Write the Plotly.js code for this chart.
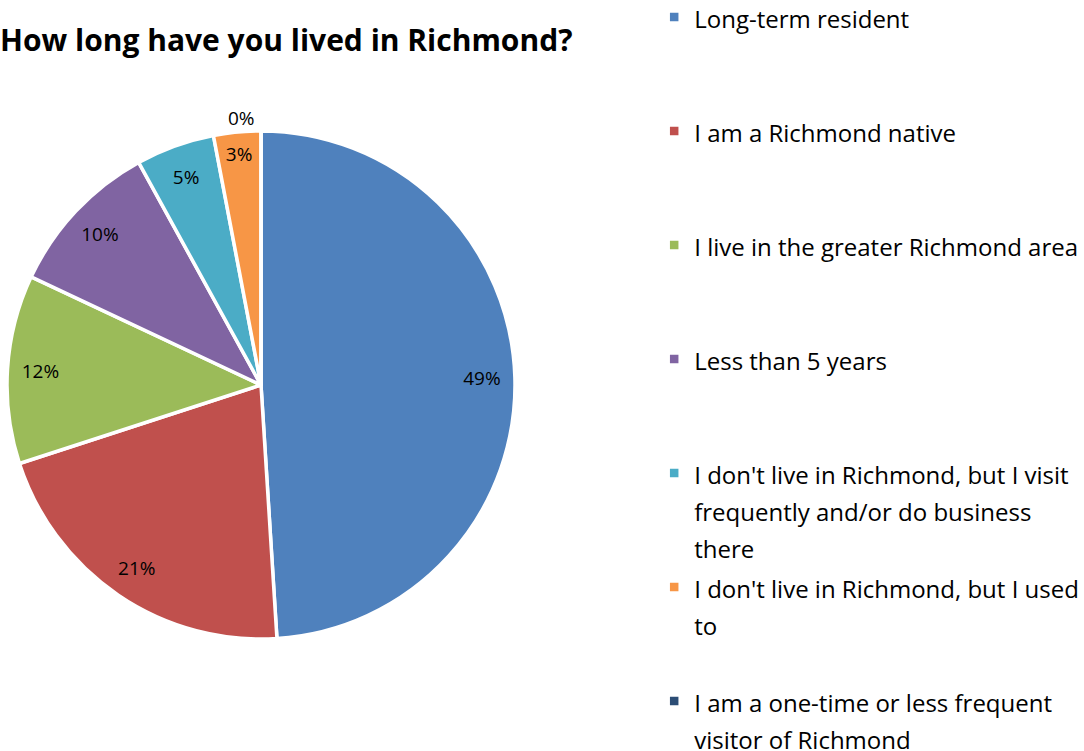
<!DOCTYPE html>
<html>
<head>
<meta charset="utf-8">
<script src="https://cdn.plot.ly/plotly-3.0.1.min.js"></script>
<style>html,body{margin:0;padding:0;background:#fff;}#chart{width:1084px;height:751px;}</style>
</head>
<body>
<div id="chart"></div>
<script>
const labels = [
  "Long-term resident",
  "I am a Richmond native",
  "I live in the greater Richmond area",
  "Less than 5 years",
  "I don't live in Richmond, but I visit<br>frequently and/or do business<br>there",
  "I don't live in Richmond, but I used<br>to",
  "I am a one-time or less frequent<br>visitor of Richmond"
];
const values = [49, 21, 12, 10, 5, 3, 0];
const colors = ["#4F81BD", "#C0504D", "#9BBB59", "#8064A2", "#4BACC6", "#F79646", "#2C4D75"];
const textPositions = ["inside", "inside", "inside", "inside", "inside", "inside", "outside"];
const titleText = "<b>How long have you lived in Richmond?</b>";

// each legend entry takes the same number of lines (slot height), glyphs drawn at TEXT_SIZE
const LINES = 3;
const TEXT_SIZE = 24;
const SLOT_LINE = 28.46; // legend font size used for line spacing
const legendLabels = labels.map((l, i) => {
  const parts = l.split("<br>");
  let s = parts.map(p => `<span style="font-size:${TEXT_SIZE}px">${p}</span>`).join("<br>");
  if (i < labels.length - 1) s += "<br> ".repeat(Math.max(0, LINES - parts.length));
  return s;
});

const W = 1084, H = 751;
const cx = 261, cy = 385, R = 254;
const domain = {
  x: [(cx - R) / W, (cx + R) / W],
  y: [(H - cy - R) / H, (H - cy + R) / H]
};

const FONT = "'Open Sans', sans-serif";

const mainPie = {
  type: "pie",
  labels: legendLabels,
  values: values,
  sort: false,
  direction: "clockwise",
  rotation: 0,
  domain: domain,
  marker: { colors: colors, line: { color: "#ffffff", width: 3.5 } },
  textinfo: "none",
  hoverinfo: "label+value",
  showlegend: true
};

const labelPie = {
  type: "pie",
  labels: legendLabels,
  values: values,
  sort: false,
  direction: "clockwise",
  rotation: 0,
  domain: domain,
  hole: 0.74,
  marker: { colors: colors.map(() => "rgba(0,0,0,0)"), line: { width: 0 } },
  texttemplate: "%{value}%",
  textposition: textPositions,
  insidetextorientation: "horizontal",
  textfont: { family: FONT, size: 19, color: "#000000" },
  outsidetextfont: { family: FONT, size: 19, color: "#000000" },
  hoverinfo: "skip",
  showlegend: false
};

const layout = {
  width: W,
  height: H,
  margin: { l: 0, r: 0, t: 0, b: 0, autoexpand: false },
  paper_bgcolor: "#ffffff",
  plot_bgcolor: "#ffffff",
  font: { family: FONT, color: "#000000" },
  title: {
    text: titleText,
    font: { family: FONT, size: 30, color: "#000000" },
    x: 0, xref: "container", xanchor: "left",
    y: 1 - 40 / H, yref: "container", yanchor: "middle"
  },
  showlegend: true,
  legend: {
    x: 0.6035, xanchor: "left",
    y: 1 + 8 / H, yanchor: "top",
    valign: "top",
    maxheight: 2000,
    font: { family: FONT, size: SLOT_LINE, color: "#000000" },
    bgcolor: "rgba(0,0,0,0)",
    itemclick: false, itemdoubleclick: false
  }
};

Plotly.newPlot("chart", [mainPie, labelPie], layout, { displayModeBar: false, staticPlot: true });
</script>
</body>
</html>
